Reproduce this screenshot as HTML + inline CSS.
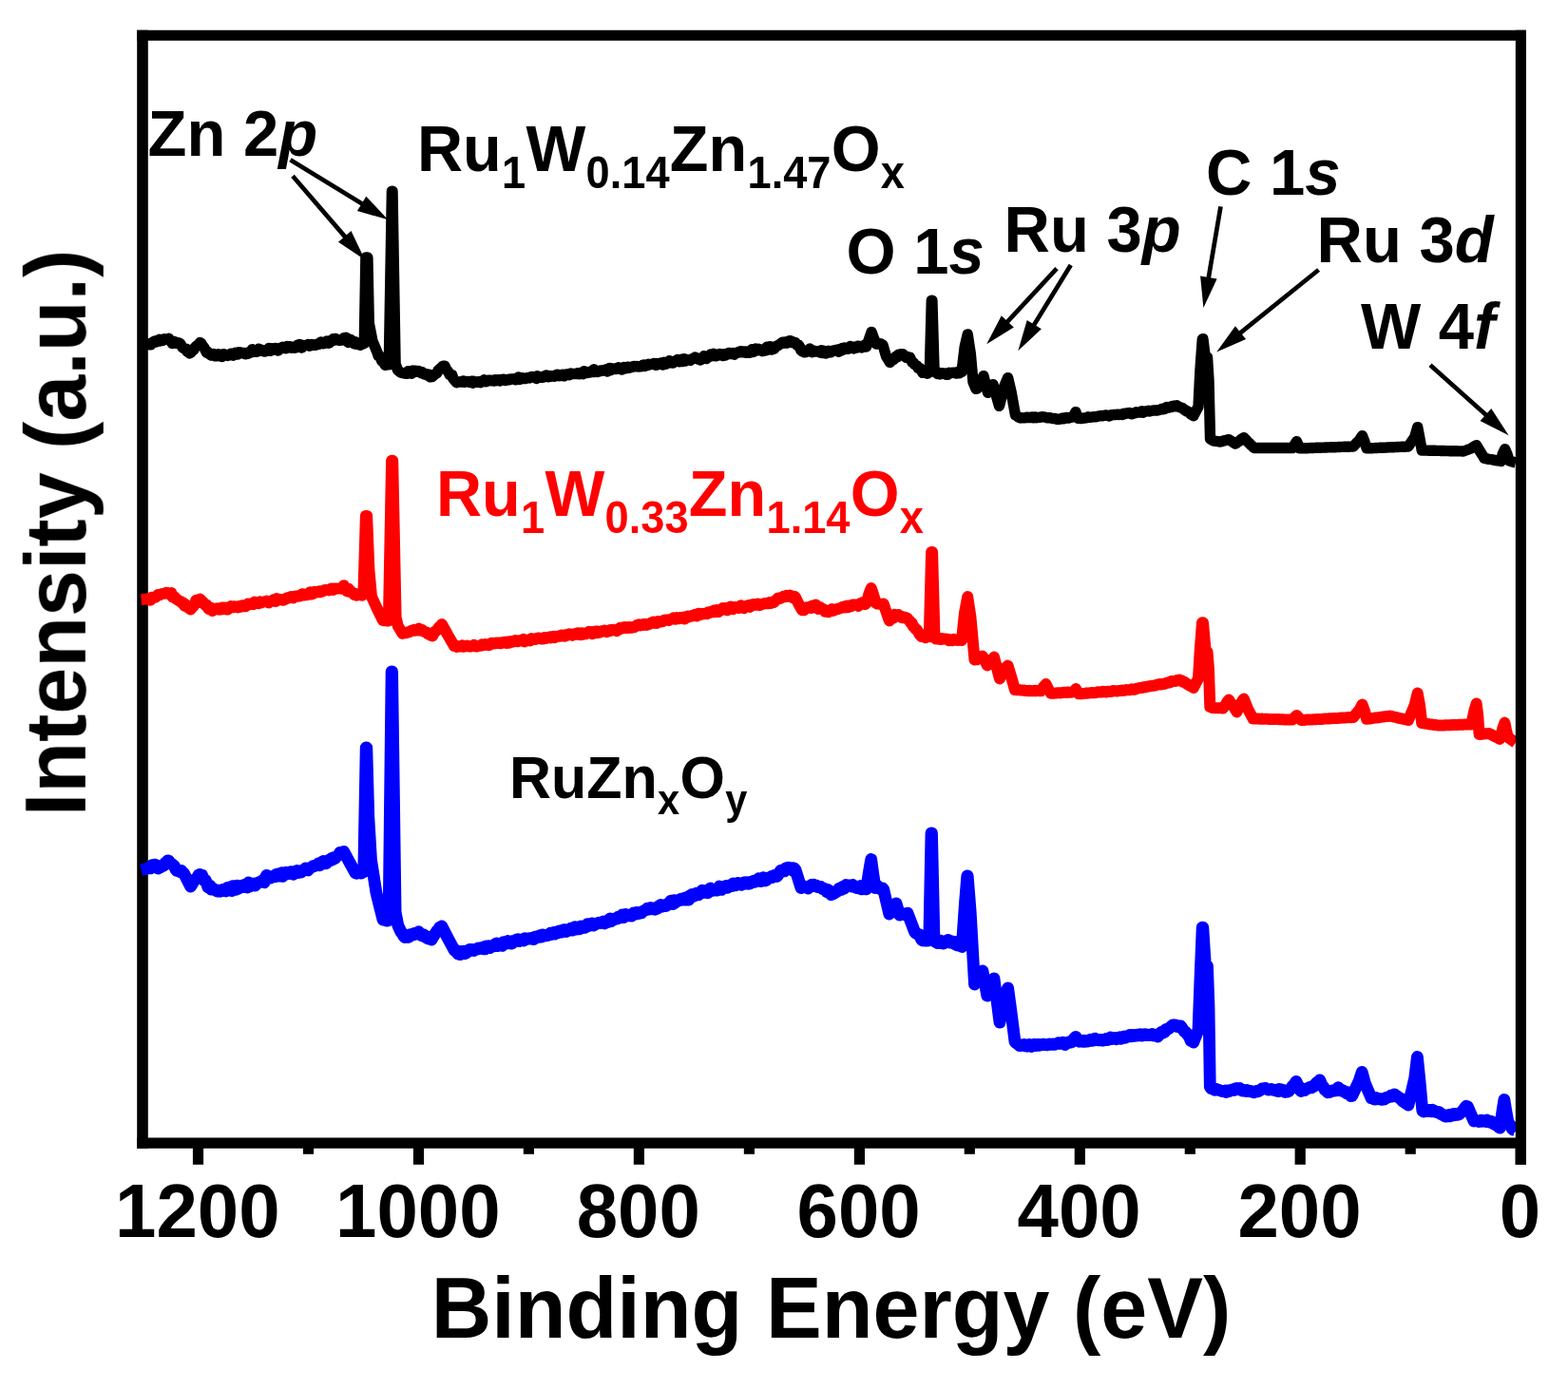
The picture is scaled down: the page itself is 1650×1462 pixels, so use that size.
<!DOCTYPE html>
<html lang="en"><head><meta charset="utf-8"><title>XPS survey spectra</title>
<style>
html,body{margin:0;padding:0;background:#fff;}
body{width:1650px;height:1462px;overflow:hidden;}
svg{display:block;}
text{font-family:"Liberation Sans","Arial","Helvetica",sans-serif;font-weight:700;}
.it{font-style:italic;}
</style></head><body>
<svg xmlns="http://www.w3.org/2000/svg" width="1650" height="1462" viewBox="0 0 1650 1462">
<rect x="0" y="0" width="1650" height="1462" fill="#fff"/>
<defs><filter id="soft" x="0" y="0" width="1650" height="1462" filterUnits="userSpaceOnUse"><feGaussianBlur stdDeviation="0.55"/></filter></defs>
<g filter="url(#soft)">
<g id="frame" stroke="#000" fill="none">
<line x1="150" y1="31.85" x2="150" y2="1208.7" stroke-width="11.6"/>
<line x1="144.2" y1="37.35" x2="1606" y2="37.35" stroke-width="11.0"/>
<line x1="144.2" y1="1203.1" x2="1606" y2="1203.1" stroke-width="11.2"/>
</g>
<line x1="1600.2" y1="1203.0" x2="1600.2" y2="1225.8" stroke="#000" stroke-width="11.2"/>
<line x1="1484.2" y1="1203.0" x2="1484.2" y2="1214.8" stroke="#000" stroke-width="11.2"/>
<line x1="1368.2" y1="1203.0" x2="1368.2" y2="1225.8" stroke="#000" stroke-width="11.2"/>
<line x1="1252.3" y1="1203.0" x2="1252.3" y2="1214.8" stroke="#000" stroke-width="11.2"/>
<line x1="1136.3" y1="1203.0" x2="1136.3" y2="1225.8" stroke="#000" stroke-width="11.2"/>
<line x1="1020.3" y1="1203.0" x2="1020.3" y2="1214.8" stroke="#000" stroke-width="11.2"/>
<line x1="904.4" y1="1203.0" x2="904.4" y2="1225.8" stroke="#000" stroke-width="11.2"/>
<line x1="788.4" y1="1203.0" x2="788.4" y2="1214.8" stroke="#000" stroke-width="11.2"/>
<line x1="672.4" y1="1203.0" x2="672.4" y2="1225.8" stroke="#000" stroke-width="11.2"/>
<line x1="556.4" y1="1203.0" x2="556.4" y2="1214.8" stroke="#000" stroke-width="11.2"/>
<line x1="440.5" y1="1203.0" x2="440.5" y2="1225.8" stroke="#000" stroke-width="11.2"/>
<line x1="324.5" y1="1203.0" x2="324.5" y2="1214.8" stroke="#000" stroke-width="11.2"/>
<line x1="208.5" y1="1203.0" x2="208.5" y2="1225.8" stroke="#000" stroke-width="11.2"/>
<g fill="none" stroke-linejoin="round">
<polyline points="148.5,362.0 156.0,361.8 157.3,362.9 158.7,362.8 160.0,361.0 161.3,359.8 162.7,359.1 164.0,360.0 165.2,359.7 166.4,358.2 167.7,357.4 168.9,358.9 170.1,358.5 171.3,358.6 172.6,356.7 173.8,357.4 175.0,357.1 176.2,357.3 177.5,356.1 178.7,358.7 179.9,358.8 181.1,361.5 182.4,359.4 183.6,359.4 184.8,361.3 186.0,360.5 187.3,361.6 188.5,361.0 189.7,361.8 190.9,363.7 192.1,365.7 193.3,366.6 194.6,367.2 195.8,367.2 197.0,370.0 198.2,370.8 199.4,371.9 200.8,371.2 202.2,369.2 203.6,368.6 205.0,366.0 206.3,364.6 207.7,363.5 209.0,362.6 210.3,360.6 211.7,361.2 213.2,363.9 214.6,365.6 216.0,368.0 217.3,371.2 218.6,370.3 219.8,372.2 221.1,373.4 222.4,374.0 223.6,373.7 224.8,372.5 226.1,374.9 227.3,373.6 228.5,374.7 229.7,372.7 230.9,373.6 232.1,375.2 233.3,375.4 234.6,372.8 235.8,372.7 237.0,374.0 238.2,373.8 239.4,374.4 240.5,373.7 241.7,373.7 242.9,372.3 244.1,373.7 245.3,374.1 246.5,372.4 247.6,371.3 248.8,371.8 250.0,373.1 251.2,370.6 252.4,372.0 253.6,371.0 254.7,371.7 255.9,371.4 257.1,371.5 258.3,372.8 259.5,371.6 260.7,372.4 261.8,370.8 263.0,370.3 264.2,371.0 265.4,367.7 266.6,370.3 267.8,370.4 268.9,368.8 270.1,370.4 271.3,369.2 272.5,367.1 273.7,369.2 274.9,368.3 276.0,368.6 277.2,368.9 278.4,370.1 279.6,368.8 280.8,368.6 282.0,368.8 283.1,366.5 284.3,369.4 285.5,368.0 286.7,366.8 287.9,368.2 289.0,366.4 290.2,366.4 291.4,366.9 292.6,369.1 293.8,367.7 295.0,366.2 296.1,366.4 297.3,365.3 298.5,366.4 299.7,365.7 300.9,366.8 302.1,364.5 303.2,365.5 304.4,364.8 305.6,364.8 306.8,366.1 308.0,365.4 309.2,365.7 310.3,366.2 311.5,366.0 312.7,363.2 313.9,365.1 315.1,362.5 316.3,364.1 317.4,366.1 318.6,363.7 319.8,363.4 321.0,363.8 322.2,363.5 323.4,363.3 324.5,362.4 325.7,364.2 326.9,363.8 328.1,362.5 329.3,362.9 330.5,363.1 331.6,363.4 332.8,362.6 334.0,362.0 335.2,362.5 336.4,361.2 337.6,360.0 338.8,360.4 340.0,361.8 341.2,361.5 342.4,360.3 343.6,359.2 344.8,359.9 346.0,361.2 347.2,360.6 348.4,358.0 349.6,358.5 350.8,356.7 352.0,358.0 353.2,356.5 354.4,357.8 355.7,357.4 356.9,358.2 358.1,358.3 359.3,357.6 360.6,357.9 361.8,355.7 363.0,356.1 364.2,355.3 365.3,357.6 366.5,360.5 367.7,358.4 368.8,357.2 370.0,359.0 371.3,359.9 372.6,361.8 373.8,359.7 375.1,362.3 376.4,362.0 377.8,361.2 379.2,363.2 380.5,362.5 381.9,361.9 383.3,361.5 384.9,271.0 386.9,271.0 388.3,340.0 392.0,359.0 397.0,371.0 398.2,374.8 399.3,374.3 400.5,375.9 401.7,380.0 402.8,379.4 404.0,382.0 405.3,384.4 406.6,382.9 408.0,382.6 409.3,383.9 412.4,201.1 413.0,201.1 416.1,383.0 418.5,389.5 420.0,390.7 421.5,392.0 423.0,392.4 424.5,392.8 426.0,393.0 427.2,392.6 428.4,393.4 429.6,390.6 430.9,391.8 432.1,391.8 433.3,393.2 434.5,390.0 435.7,391.1 437.0,390.3 438.2,390.4 439.4,391.3 440.6,390.6 441.8,391.4 443.0,392.7 444.2,391.6 445.4,392.7 446.6,393.9 447.8,394.2 449.0,393.7 450.2,395.3 451.4,394.3 452.6,396.8 453.8,396.1 455.0,396.4 456.2,395.1 457.4,394.1 458.6,393.2 459.8,392.7 461.0,390.0 462.2,388.9 463.4,387.7 464.6,387.5 465.8,385.3 467.0,385.1 468.2,385.4 469.5,389.2 470.8,390.0 472.0,392.0 473.2,394.4 474.5,394.4 475.7,394.6 476.9,398.5 478.2,400.0 479.4,401.5 480.6,402.7 481.8,402.0 482.9,401.9 484.1,402.1 485.3,401.5 486.5,401.9 487.6,401.0 488.8,402.3 490.0,402.0 491.2,401.4 492.5,401.6 493.8,402.4 495.0,402.5 496.2,401.2 497.5,403.2 498.8,401.4 500.0,401.8 501.2,402.3 502.3,402.3 503.5,401.7 504.7,401.6 505.8,402.6 507.0,401.9 508.2,401.5 509.3,399.8 510.5,400.5 511.7,401.7 512.9,400.9 514.0,400.1 515.2,400.2 516.4,400.3 517.5,400.9 518.7,400.6 519.9,401.0 521.0,399.6 522.2,400.8 523.4,399.6 524.5,399.7 525.7,401.0 526.9,399.8 528.0,399.5 529.2,399.4 530.4,399.2 531.6,400.5 532.7,400.2 533.9,399.7 535.1,399.2 536.2,399.7 537.4,398.9 538.6,399.1 539.7,399.0 540.9,398.7 542.1,399.7 543.2,399.7 544.4,399.3 545.6,396.9 546.7,399.5 547.9,398.6 549.1,397.7 550.3,397.9 551.4,398.6 552.6,398.6 553.8,398.3 554.9,397.7 556.1,397.5 557.3,398.0 558.4,397.2 559.6,396.5 560.8,396.6 561.9,396.9 563.1,397.2 564.3,398.5 565.4,395.7 566.6,397.0 567.8,396.5 569.0,396.7 570.1,397.4 571.3,397.2 572.5,396.1 573.6,395.7 574.8,395.0 576.0,395.9 577.1,396.8 578.3,395.5 579.5,396.2 580.6,396.1 581.8,395.8 583.0,396.2 584.1,395.2 585.3,394.6 586.5,394.2 587.7,395.7 588.8,394.7 590.0,394.6 591.2,395.4 592.3,394.1 593.5,395.9 594.7,395.0 595.8,394.0 597.0,394.3 598.2,393.7 599.3,394.9 600.5,393.0 601.7,393.3 602.8,393.6 604.0,393.6 605.2,393.4 606.3,393.5 607.5,392.8 608.7,392.8 609.9,393.8 611.0,393.2 612.2,392.2 613.4,393.7 614.5,390.7 615.7,392.2 616.9,392.5 618.0,392.6 619.2,391.8 620.4,391.3 621.5,391.9 622.7,391.2 623.9,391.5 625.0,388.8 626.2,391.2 627.4,390.1 628.6,391.4 629.7,391.1 630.9,390.9 632.1,389.9 633.2,390.4 634.4,389.7 635.6,390.0 636.7,389.6 637.9,388.8 639.1,391.0 640.2,389.8 641.4,387.5 642.6,389.7 643.7,387.7 644.9,388.5 646.1,388.1 647.3,388.0 648.4,388.5 649.6,387.9 650.8,386.8 651.9,387.9 653.1,388.1 654.3,389.1 655.4,387.2 656.6,386.4 657.8,386.9 658.9,387.6 660.1,386.2 661.3,386.2 662.4,387.1 663.6,386.5 664.8,386.6 666.0,385.7 667.1,385.4 668.3,385.7 669.5,385.7 670.6,385.4 671.8,386.0 673.0,385.9 674.1,385.8 675.3,385.6 676.5,384.3 677.6,384.0 678.8,385.5 680.0,384.6 681.1,384.6 682.3,383.4 683.5,384.0 684.7,383.5 685.8,383.2 687.0,383.3 688.2,382.4 689.3,383.6 690.5,384.4 691.7,382.7 692.8,383.2 694.0,383.0 695.2,381.9 696.3,383.2 697.5,384.1 698.7,381.2 699.9,381.9 701.0,383.2 702.2,382.1 703.4,381.7 704.6,379.6 705.7,381.1 706.9,381.9 708.1,382.1 709.2,381.3 710.4,380.0 711.6,379.7 712.8,378.5 713.9,379.0 715.1,380.8 716.3,379.5 717.4,378.2 718.6,380.5 719.8,377.6 721.0,380.1 722.1,378.4 723.3,378.9 724.5,379.0 725.7,378.4 726.8,379.2 728.0,377.9 729.2,377.4 730.3,376.9 731.5,376.0 732.7,376.5 733.9,377.9 735.0,377.6 736.2,377.9 737.4,379.0 738.6,376.9 739.7,376.5 740.9,374.7 742.1,375.5 743.2,377.6 744.4,375.9 745.6,375.1 746.8,375.3 747.9,373.0 749.1,373.9 750.3,373.2 751.4,372.3 752.6,374.9 753.8,374.9 755.0,373.6 756.1,373.9 757.3,372.4 758.5,373.7 759.7,373.8 760.8,374.4 762.0,372.7 763.2,374.1 764.4,372.9 765.5,372.2 766.7,371.4 767.9,371.5 769.1,372.5 770.2,372.3 771.4,371.7 772.6,373.2 773.8,372.0 775.0,371.3 776.1,370.9 777.3,371.1 778.5,369.9 779.7,369.8 780.8,370.9 782.0,369.9 783.2,370.1 784.4,371.4 785.6,369.9 786.7,371.3 787.9,369.8 789.1,371.2 790.3,370.0 791.4,367.7 792.6,370.5 793.8,369.0 795.0,367.0 796.2,369.0 797.3,368.9 798.5,367.3 799.7,367.9 800.9,368.9 802.0,369.7 803.2,369.3 804.4,369.2 805.6,369.0 806.8,365.2 807.9,366.8 809.1,367.6 810.3,364.6 811.5,368.0 812.6,368.0 813.8,366.1 815.0,366.8 816.2,365.4 817.4,363.9 818.6,363.9 819.8,362.9 821.0,362.0 822.2,361.6 823.4,360.1 824.6,361.2 825.8,360.0 827.0,360.0 828.2,361.1 829.5,360.5 830.8,358.6 832.0,358.7 833.2,360.4 834.5,359.8 835.8,361.0 837.0,360.5 838.2,362.9 839.3,363.6 840.5,363.3 841.7,365.4 842.8,368.7 844.0,369.7 845.2,368.7 846.3,370.9 847.5,369.7 848.7,370.3 849.8,368.9 851.0,369.8 852.2,366.9 853.3,369.7 854.5,370.5 855.7,369.1 856.8,369.1 858.0,370.0 859.2,370.0 860.5,370.2 861.8,369.4 863.0,371.0 864.2,368.8 865.5,371.6 866.8,369.2 868.0,369.9 869.2,372.1 870.5,369.8 871.8,369.3 873.0,371.0 874.2,370.8 875.4,369.5 876.6,369.0 877.9,369.2 879.1,368.8 880.3,368.3 881.5,368.0 882.7,370.3 883.9,367.7 885.1,369.1 886.4,366.4 887.6,368.1 888.8,366.0 890.0,367.0 891.2,366.4 892.4,367.4 893.6,366.1 894.8,364.5 896.0,365.9 897.2,366.2 898.4,366.8 899.6,365.1 900.8,365.7 902.0,366.0 903.2,364.1 904.4,365.6 905.6,364.7 906.8,365.9 908.0,365.2 909.2,365.0 910.5,362.6 911.7,365.0 914.8,356.0 917.1,349.4 919.4,356.0 922.2,362.0 923.6,362.1 924.9,362.0 926.3,361.6 927.6,362.3 929.0,363.0 932.5,375.0 936.5,381.4 937.8,379.1 939.1,379.2 940.4,378.5 941.6,377.2 942.9,375.0 944.2,375.9 945.5,373.1 946.7,374.2 947.9,372.8 949.1,373.8 950.2,372.7 951.4,374.5 952.6,375.6 953.8,376.4 955.0,375.5 956.2,376.3 957.5,376.2 958.8,378.9 960.0,381.5 961.2,381.6 962.5,383.7 963.8,384.5 965.0,385.0 966.2,387.4 967.3,387.7 968.5,387.7 969.7,389.7 970.8,392.4 972.0,391.5 973.3,391.1 974.5,390.0 975.8,393.2 977.0,391.8 978.3,391.5 980.3,316.1 980.9,316.1 983.1,391.5 984.3,391.7 985.5,392.4 986.7,393.5 987.9,392.3 989.1,393.9 990.3,393.5 991.5,392.8 992.7,392.9 994.0,392.9 995.2,394.0 996.4,393.0 997.6,394.2 998.8,392.4 1000.0,393.0 1001.2,392.4 1002.4,392.3 1003.6,392.1 1004.8,392.3 1006.0,393.0 1007.2,393.0 1008.4,391.1 1009.6,392.8 1010.8,391.7 1012.0,391.5 1015.2,365.0 1018.2,351.9 1021.3,372.0 1024.0,402.0 1027.0,409.4 1028.3,409.0 1029.7,406.4 1031.0,405.0 1035.0,395.6 1039.5,413.4 1045.0,404.6 1051.5,427.4 1057.0,406.0 1060.6,397.6 1064.0,412.0 1068.5,437.0 1069.9,437.5 1071.2,438.8 1072.6,439.4 1074.0,440.0 1075.2,439.8 1076.4,439.9 1077.6,439.9 1078.8,439.9 1080.0,439.2 1081.2,439.3 1082.4,439.6 1083.6,439.6 1084.8,439.3 1086.0,438.9 1087.2,439.8 1088.4,439.2 1089.6,438.9 1090.8,439.7 1092.0,439.5 1093.2,439.4 1094.4,439.2 1095.6,439.1 1096.8,438.6 1098.0,438.8 1099.2,439.0 1100.5,439.4 1101.7,439.7 1102.9,439.8 1104.1,439.6 1105.3,439.9 1106.6,440.2 1107.8,440.5 1109.0,440.5 1110.2,440.5 1111.5,440.9 1112.7,441.4 1113.9,441.4 1115.0,441.1 1116.2,441.1 1117.4,440.2 1118.5,440.4 1119.7,440.7 1120.8,439.6 1122.0,439.7 1123.2,439.4 1124.3,440.1 1125.5,439.5 1126.7,439.2 1127.8,439.2 1129.0,439.0 1132.0,433.6 1134.5,440.4 1135.7,440.3 1136.8,440.5 1138.0,440.5 1139.2,440.3 1140.3,440.0 1141.5,440.0 1142.7,439.9 1143.8,439.9 1145.0,438.8 1146.2,439.4 1147.3,439.2 1148.5,439.1 1149.7,438.9 1150.8,438.8 1152.0,438.9 1153.2,438.7 1154.3,438.6 1155.5,438.1 1156.7,437.9 1157.8,437.9 1159.0,437.5 1160.2,437.8 1161.3,437.5 1162.5,437.1 1163.7,437.0 1164.8,437.3 1166.0,437.2 1167.2,438.0 1168.3,437.4 1169.5,436.8 1170.7,436.7 1171.8,436.5 1173.0,436.4 1174.2,436.5 1175.3,436.4 1176.5,436.1 1177.7,436.5 1178.8,436.3 1180.0,436.0 1181.2,436.5 1182.4,435.3 1183.6,435.8 1184.8,435.3 1186.0,434.8 1187.2,435.1 1188.4,434.5 1189.6,434.9 1190.7,435.8 1191.9,435.1 1193.1,435.2 1194.3,434.8 1195.5,433.7 1196.7,434.2 1197.9,434.0 1199.1,434.0 1200.3,433.3 1201.5,432.8 1202.7,434.2 1203.9,433.7 1205.1,433.3 1206.3,432.8 1207.5,432.9 1208.7,432.3 1209.8,433.0 1211.0,432.5 1212.2,432.3 1213.4,432.0 1214.6,432.0 1215.8,432.0 1217.0,431.6 1218.2,432.0 1219.4,431.5 1220.6,431.3 1221.8,430.8 1223.0,430.2 1224.1,430.7 1225.3,430.4 1226.5,429.9 1227.7,428.5 1228.9,428.8 1230.1,429.1 1231.3,428.3 1232.4,428.5 1233.6,427.5 1234.8,427.7 1236.0,427.1 1237.3,427.7 1238.6,426.9 1239.9,428.1 1241.1,428.6 1242.4,428.9 1243.7,429.2 1245.0,430.0 1246.2,431.5 1247.4,431.7 1248.6,432.9 1249.8,433.0 1251.0,433.7 1252.2,435.1 1253.4,436.3 1254.6,436.8 1255.8,437.9 1261.0,428.0 1262.9,390.0 1265.3,356.8 1265.9,356.8 1268.3,376.0 1270.5,376.0 1272.0,400.0 1273.5,462.0 1274.7,462.7 1275.8,463.4 1277.0,464.0 1278.2,464.1 1279.3,464.3 1280.5,464.5 1281.7,464.7 1282.8,464.9 1284.0,465.0 1285.3,464.7 1286.6,464.3 1287.9,463.9 1289.1,463.6 1290.4,463.3 1291.7,462.8 1293.0,462.6 1294.2,463.4 1295.3,464.0 1296.5,464.8 1297.7,465.7 1298.8,466.5 1300.0,467.1 1301.3,466.2 1302.5,465.3 1303.8,464.5 1305.0,463.5 1306.3,462.3 1307.5,461.5 1308.8,460.6 1310.1,462.1 1311.4,463.2 1312.7,464.7 1314.0,466.0 1315.4,467.3 1316.8,468.8 1318.3,470.1 1319.7,471.5 1320.9,471.5 1322.1,471.5 1323.3,471.5 1324.5,471.5 1325.7,471.5 1326.9,471.5 1328.0,471.5 1329.2,471.5 1330.4,471.5 1331.6,471.5 1332.8,471.5 1334.0,471.5 1335.2,471.5 1336.4,471.5 1337.6,471.5 1338.8,471.5 1340.0,471.5 1341.2,471.5 1342.4,471.5 1343.6,471.5 1344.7,471.5 1345.9,471.5 1347.1,471.5 1348.3,471.5 1349.5,471.5 1350.7,471.5 1351.9,471.5 1353.1,471.5 1354.3,471.5 1355.5,471.5 1356.7,471.5 1357.9,471.5 1359.1,471.5 1360.2,471.5 1364.5,464.6 1367.5,471.9 1368.7,471.9 1369.9,471.9 1371.1,471.8 1372.3,471.8 1373.4,471.7 1374.6,471.7 1375.8,471.7 1377.0,471.6 1378.1,471.6 1379.3,471.5 1380.5,471.5 1381.7,471.5 1382.8,471.4 1384.0,471.4 1385.2,471.3 1386.4,471.3 1387.5,471.3 1388.7,471.2 1389.9,471.2 1391.1,471.1 1392.2,471.1 1393.4,471.1 1394.6,471.0 1395.8,471.0 1397.0,470.9 1398.1,470.9 1399.3,470.9 1400.5,470.8 1401.7,470.8 1402.8,470.7 1404.0,470.7 1405.2,470.7 1406.4,470.6 1407.5,470.6 1408.7,470.5 1409.9,470.5 1411.1,470.4 1412.2,470.4 1413.4,470.4 1414.6,470.3 1415.8,470.3 1416.9,470.3 1418.1,470.2 1419.3,470.2 1420.5,470.1 1421.6,470.1 1422.8,470.0 1424.0,470.0 1425.3,468.6 1426.7,467.1 1428.0,465.7 1429.3,464.5 1430.7,463.0 1432.1,460.7 1433.5,458.6 1435.6,464.0 1438.1,471.9 1439.3,471.9 1440.5,471.8 1441.7,471.8 1442.9,471.7 1444.0,471.7 1445.2,471.6 1446.4,471.6 1447.6,471.5 1448.8,471.5 1450.0,471.4 1451.2,471.4 1452.3,471.3 1453.5,471.3 1454.7,471.2 1455.9,471.2 1457.1,471.1 1458.3,471.1 1459.5,471.0 1460.6,470.9 1461.8,470.9 1463.0,470.8 1464.2,470.8 1465.4,470.7 1466.6,470.7 1467.8,470.6 1469.0,470.6 1470.1,470.5 1471.3,470.5 1472.5,470.4 1473.7,470.4 1474.9,470.3 1476.1,470.3 1477.3,470.2 1478.4,470.2 1479.6,470.1 1480.8,470.1 1482.0,470.0 1483.3,468.0 1484.7,465.9 1486.0,464.0 1487.4,462.0 1488.7,460.0 1491.7,449.6 1493.7,460.0 1496.2,474.0 1497.4,474.0 1498.6,474.1 1499.7,474.1 1500.9,474.1 1502.1,474.1 1503.3,474.2 1504.5,474.2 1505.7,474.2 1506.8,474.2 1508.0,474.3 1509.2,474.3 1510.4,474.3 1511.6,474.4 1512.8,474.4 1513.9,474.4 1515.1,474.4 1516.3,474.5 1517.5,474.5 1518.7,474.5 1519.9,474.5 1521.1,474.6 1522.2,474.6 1523.4,474.6 1524.6,474.6 1525.8,474.7 1527.0,474.7 1528.2,474.7 1529.3,474.8 1530.5,474.8 1531.7,474.8 1532.9,474.8 1534.1,474.9 1535.3,474.9 1536.4,474.9 1537.6,474.9 1538.8,475.0 1540.0,475.0 1541.3,474.5 1542.7,474.0 1544.0,473.5 1545.3,473.0 1546.7,472.5 1548.0,472.0 1549.4,471.1 1550.8,470.3 1552.2,469.4 1553.6,468.6 1558.0,476.0 1559.3,478.1 1560.7,480.3 1562.0,482.4 1563.2,482.6 1564.5,482.8 1565.7,483.1 1566.9,483.3 1568.1,483.5 1569.4,483.7 1570.6,483.9 1571.8,484.1 1573.0,484.4 1574.3,484.6 1575.5,484.8 1576.7,485.0 1577.9,485.2 1579.2,485.4 1581.2,478.0 1583.7,472.6 1585.9,478.0 1588.0,485.0 1589.2,485.3 1590.4,485.7 1591.5,486.0 1592.7,486.3 1593.8,486.7 1595.0,487.0" stroke="#000" stroke-width="11.4"/>
<polyline points="148.5,631.0 157.0,630.3 158.3,631.8 159.7,628.8 161.0,629.2 162.3,628.6 163.7,628.7 165.0,627.5 166.3,626.0 167.5,626.4 168.8,625.7 170.1,625.1 171.3,624.9 172.6,624.8 173.9,624.6 175.1,623.7 176.4,624.1 177.7,625.3 179.0,625.4 180.3,624.1 181.6,628.6 182.8,628.2 184.1,628.7 185.4,630.5 186.7,631.3 188.0,632.0 189.3,633.0 190.5,633.2 191.8,635.0 193.0,634.5 194.3,637.8 195.6,636.6 196.8,638.4 198.1,639.5 199.3,640.6 200.6,641.4 202.1,639.4 203.5,638.2 205.0,636.0 206.3,631.7 207.7,633.1 209.0,631.7 210.3,630.6 211.5,631.5 212.7,634.4 213.8,633.8 215.0,636.0 216.2,637.1 217.5,636.9 218.8,640.0 220.0,641.2 221.2,639.9 222.4,640.0 223.6,643.0 224.8,641.8 226.0,641.2 227.2,641.4 228.4,640.2 229.6,640.5 230.8,641.7 232.0,641.5 233.2,639.6 234.4,641.2 235.6,639.5 236.9,640.7 238.1,639.6 239.3,641.6 240.5,640.8 241.7,639.5 242.9,638.2 244.1,638.9 245.4,639.2 246.6,638.3 247.8,639.1 249.0,638.8 250.2,639.3 251.3,638.2 252.5,637.7 253.7,638.5 254.8,637.4 256.0,638.1 257.2,637.0 258.3,638.3 259.5,636.6 260.7,635.7 261.8,636.5 263.0,635.7 264.2,635.2 265.3,635.7 266.5,636.2 267.7,633.6 268.8,635.1 270.0,634.8 271.2,634.6 272.3,635.2 273.5,633.2 274.7,634.6 275.8,633.7 277.0,633.8 278.2,633.3 279.4,633.0 280.5,632.6 281.7,633.2 282.9,634.4 284.0,633.3 285.2,632.9 286.4,632.5 287.5,631.4 288.7,632.1 289.9,633.1 291.0,630.1 292.2,631.7 293.4,631.6 294.5,630.8 295.7,631.0 296.9,631.3 298.0,631.8 299.2,630.8 300.4,630.9 301.5,629.6 302.7,629.8 303.9,629.0 305.0,628.9 306.2,628.1 307.4,628.8 308.5,629.3 309.7,627.9 310.9,627.5 312.1,627.6 313.2,627.7 314.4,627.0 315.6,627.5 316.8,626.7 317.9,625.3 319.1,625.2 320.3,626.4 321.5,626.1 322.7,626.3 323.8,625.3 325.0,625.0 326.2,623.3 327.4,625.6 328.6,623.4 329.7,624.8 330.9,622.8 332.1,623.0 333.3,623.4 334.4,622.7 335.6,622.2 336.8,623.3 338.0,622.9 339.2,622.5 340.3,621.6 341.5,621.0 342.7,621.0 343.9,620.8 345.1,621.0 346.2,621.4 347.4,620.4 348.6,619.6 349.8,619.6 350.9,620.9 352.1,619.7 353.3,619.4 354.5,619.5 355.7,619.4 356.9,619.5 358.1,619.1 359.4,619.8 360.6,619.4 361.8,616.2 363.0,618.5 364.2,619.1 365.4,622.4 366.6,619.5 367.8,621.4 369.0,622.0 370.2,623.8 371.4,623.9 372.6,625.9 373.8,624.7 375.0,626.7 376.2,625.5 377.5,626.3 378.7,625.7 380.0,625.3 381.2,626.6 382.4,626.0 384.9,542.9 386.1,542.9 388.4,600.0 391.0,628.0 397.0,641.0 403.0,653.0 404.2,653.3 405.4,653.2 406.6,653.0 407.8,653.6 408.9,653.5 412.1,484.7 413.2,484.7 416.6,650.0 418.8,659.0 423.6,666.9 424.8,666.5 426.0,665.8 427.2,666.2 428.4,665.8 429.6,665.2 430.8,665.3 432.0,664.5 433.2,663.4 434.5,663.6 435.7,662.9 436.9,663.7 438.1,662.8 439.4,663.4 440.6,661.6 441.8,663.3 443.0,662.7 444.2,662.9 445.4,664.5 446.6,664.7 447.8,665.4 449.0,665.5 450.2,667.2 451.4,667.6 452.6,668.3 453.8,668.9 455.0,669.4 456.2,667.3 457.5,664.8 458.8,664.4 460.0,663.0 461.2,661.1 462.5,659.7 463.8,659.2 465.0,657.1 471.0,668.0 478.0,680.0 479.2,679.9 480.4,680.8 481.6,680.1 482.8,680.4 484.0,680.3 485.2,680.4 486.4,679.3 487.6,680.6 488.8,680.1 490.0,680.0 491.2,679.5 492.5,680.3 493.8,680.1 495.0,680.6 496.2,680.3 497.5,680.0 498.8,679.0 500.0,679.8 501.2,680.6 502.4,680.3 503.5,679.8 504.7,679.5 505.9,679.8 507.1,678.5 508.3,679.2 509.5,678.7 510.6,678.1 511.8,678.7 513.0,678.5 514.2,679.1 515.4,678.6 516.6,677.1 517.7,676.7 518.9,677.6 520.1,677.4 521.3,676.9 522.5,676.5 523.7,677.0 524.8,676.4 526.0,676.5 527.2,677.2 528.4,676.7 529.6,676.0 530.8,675.7 531.9,676.1 533.1,677.0 534.3,675.6 535.5,676.7 536.7,675.2 537.9,675.4 539.0,675.8 540.2,674.8 541.4,675.1 542.6,674.2 543.8,675.2 545.0,675.3 546.1,674.2 547.3,674.5 548.5,674.3 549.7,673.9 550.8,672.8 552.0,675.4 553.2,674.1 554.3,674.1 555.5,673.7 556.7,673.5 557.8,674.6 559.0,672.1 560.2,672.8 561.4,672.6 562.5,672.6 563.7,673.0 564.9,672.0 566.0,671.5 567.2,671.5 568.4,672.3 569.5,672.4 570.7,672.2 571.9,672.5 573.0,671.2 574.2,671.9 575.4,671.6 576.5,671.0 577.7,670.5 578.9,671.3 580.1,670.3 581.2,670.4 582.4,669.9 583.6,671.3 584.7,670.1 585.9,669.7 587.1,669.7 588.2,669.6 589.4,669.7 590.6,668.5 591.7,668.7 592.9,669.5 594.1,669.7 595.2,668.3 596.4,668.9 597.6,668.3 598.8,667.2 599.9,668.2 601.1,667.6 602.3,668.7 603.4,667.9 604.6,667.9 605.8,666.9 606.9,667.7 608.1,666.3 609.3,667.5 610.4,668.0 611.6,666.3 612.8,667.5 613.9,667.7 615.1,666.6 616.3,667.2 617.5,666.5 618.6,666.0 619.8,664.9 621.0,665.3 622.1,665.0 623.3,667.2 624.5,665.8 625.6,665.4 626.8,664.5 628.0,666.3 629.1,664.4 630.3,665.9 631.5,665.5 632.6,664.7 633.8,664.1 635.0,664.4 636.2,663.4 637.3,664.5 638.5,665.1 639.7,664.4 640.8,664.4 642.0,663.2 643.2,663.7 644.3,662.7 645.5,663.2 646.7,662.7 647.8,663.2 649.0,664.2 650.2,662.4 651.3,662.2 652.5,660.7 653.7,661.8 654.9,660.9 656.0,660.4 657.2,660.1 658.4,661.0 659.5,660.4 660.7,660.9 661.9,660.1 663.0,660.1 664.2,660.8 665.4,660.2 666.5,659.9 667.7,660.2 668.9,659.1 670.1,658.1 671.2,658.1 672.4,657.3 673.6,658.4 674.7,657.7 675.9,658.1 677.1,658.1 678.2,656.8 679.4,657.2 680.6,657.8 681.8,656.8 682.9,657.1 684.1,656.1 685.3,655.4 686.4,655.7 687.6,654.4 688.8,655.9 689.9,654.9 691.1,655.9 692.3,654.0 693.4,654.7 694.6,654.6 695.8,654.0 697.0,654.2 698.1,653.2 699.3,652.8 700.5,652.4 701.6,652.7 702.8,652.4 704.0,652.9 705.1,652.2 706.3,651.8 707.5,651.6 708.6,650.5 709.8,651.4 711.0,651.8 712.2,650.3 713.3,650.9 714.5,651.3 715.7,650.1 716.8,650.5 718.0,650.2 719.2,649.7 720.4,651.5 721.6,650.5 722.7,650.1 723.9,648.5 725.1,649.3 726.3,648.5 727.5,648.6 728.7,647.7 729.8,648.0 731.0,647.1 732.2,647.6 733.4,648.5 734.6,645.9 735.8,645.7 736.9,646.9 738.1,646.8 739.3,645.7 740.5,646.2 741.7,645.9 742.9,645.7 744.0,646.1 745.2,644.4 746.4,645.1 747.6,644.5 748.8,643.6 750.0,644.3 751.1,642.7 752.3,642.3 753.5,644.1 754.7,642.1 755.9,644.1 757.1,643.3 758.2,641.9 759.4,641.4 760.6,640.1 761.8,641.6 763.0,641.4 764.2,640.0 765.3,642.3 766.5,639.6 767.7,640.7 768.9,638.4 770.1,640.1 771.3,641.2 772.4,639.6 773.6,639.1 774.8,639.2 776.0,639.7 777.2,640.0 778.4,638.9 779.5,637.3 780.7,639.0 781.9,639.3 783.1,640.2 784.3,638.3 785.4,638.1 786.6,637.4 787.8,638.2 789.0,638.9 790.2,636.5 791.4,637.2 792.5,636.1 793.7,636.2 794.9,636.4 796.1,636.8 797.3,635.5 798.4,635.8 799.6,637.0 800.8,636.1 802.0,636.0 803.2,635.6 804.4,635.0 805.5,635.3 806.7,635.2 807.9,634.6 809.1,635.2 810.3,634.2 811.5,634.8 812.6,633.9 813.8,634.3 815.0,633.5 816.2,631.9 817.5,631.0 818.8,629.5 820.0,629.5 821.2,630.0 822.5,628.9 823.8,628.2 825.0,627.5 826.2,628.1 827.4,627.0 828.6,627.9 829.8,627.5 831.0,626.4 832.2,627.9 833.4,627.5 834.6,629.5 835.8,627.8 837.0,628.5 840.0,635.0 844.0,642.2 845.2,641.3 846.4,642.1 847.6,640.9 848.8,639.4 850.0,640.0 851.2,639.7 852.4,638.5 853.6,640.0 854.8,637.4 856.0,637.8 857.2,637.6 858.4,636.4 859.6,638.5 860.9,640.9 862.1,639.7 863.3,639.4 864.5,640.8 865.7,640.8 866.9,641.4 868.1,643.7 869.4,643.8 870.6,643.8 871.8,644.3 873.0,643.4 874.2,642.3 875.4,641.1 876.6,642.8 877.9,642.2 879.1,641.5 880.3,641.0 881.5,641.3 882.7,640.8 883.9,640.1 885.1,639.9 886.4,639.0 887.6,638.5 888.8,639.5 890.0,638.0 891.2,637.6 892.4,639.3 893.6,638.0 894.8,637.4 896.0,638.1 897.2,636.6 898.4,636.7 899.6,636.4 900.8,636.5 902.0,636.9 903.2,637.9 904.4,636.4 905.6,635.0 906.8,635.0 908.0,634.0 909.2,635.9 910.5,635.9 911.7,635.0 914.4,625.0 916.8,619.1 919.1,626.0 921.8,635.0 923.1,635.4 924.4,635.5 925.7,635.7 927.1,635.7 928.4,635.9 929.7,635.5 935.8,653.4 937.0,652.5 938.2,650.6 939.4,650.9 940.6,650.2 941.8,646.9 943.0,647.1 944.2,647.3 945.4,647.0 946.6,648.6 947.8,648.4 949.0,650.1 950.2,650.3 951.4,649.5 952.6,649.9 953.8,650.2 955.0,651.0 956.2,652.9 957.3,653.3 958.5,655.8 959.7,656.0 960.8,659.2 962.0,660.0 963.3,662.0 964.6,662.6 965.9,664.5 967.1,666.8 968.4,668.5 969.7,670.0 971.0,668.3 972.4,670.2 973.7,671.1 975.1,669.9 976.4,669.4 977.8,670.3 980.1,581.1 981.1,581.1 983.5,671.0 985.1,672.5 986.7,672.5 987.9,672.7 989.1,672.8 990.3,673.1 991.5,672.1 992.7,672.6 994.0,672.4 995.2,672.5 996.4,673.0 997.6,672.7 998.8,674.3 1000.0,673.5 1001.2,673.8 1002.4,674.1 1003.6,672.7 1004.8,673.6 1006.0,673.7 1007.2,673.9 1008.4,674.1 1009.6,673.4 1010.8,673.4 1012.0,674.0 1015.0,645.0 1018.2,628.1 1021.5,650.0 1025.5,694.4 1026.7,694.3 1027.9,694.3 1029.1,693.7 1030.4,692.1 1031.6,691.3 1032.8,691.2 1034.0,690.6 1038.8,700.4 1040.0,699.1 1041.2,698.2 1042.4,695.9 1043.6,694.2 1044.8,693.5 1046.0,691.6 1052.0,714.4 1056.5,705.0 1057.9,703.2 1059.2,701.7 1060.6,700.6 1064.0,712.0 1068.0,726.0 1069.2,726.2 1070.4,726.2 1071.6,726.0 1072.8,726.3 1074.0,726.4 1075.2,726.5 1076.4,726.5 1077.6,726.9 1078.8,726.8 1080.0,727.0 1081.2,726.9 1082.4,727.3 1083.5,726.8 1084.7,727.3 1085.9,727.3 1087.1,727.1 1088.2,727.2 1089.4,726.8 1090.6,727.3 1091.8,727.0 1093.0,727.0 1094.1,727.3 1095.3,727.3 1096.7,725.0 1098.1,723.0 1100.6,720.1 1103.0,725.0 1105.8,729.7 1106.9,729.7 1108.1,729.7 1109.3,729.8 1110.5,729.5 1111.6,729.6 1112.8,729.2 1114.0,729.2 1115.2,729.4 1116.3,729.4 1117.5,729.2 1118.7,728.9 1119.9,728.7 1121.0,728.7 1122.2,729.1 1123.4,728.6 1124.6,728.7 1125.7,728.8 1126.9,728.7 1128.1,728.4 1129.2,728.5 1130.6,727.3 1132.0,725.1 1133.7,727.7 1135.3,730.3 1136.5,730.3 1137.6,730.3 1138.8,730.0 1140.0,730.1 1141.1,729.8 1142.3,729.6 1143.4,729.4 1144.6,729.7 1145.8,729.5 1146.9,729.3 1148.1,729.2 1149.3,729.1 1150.4,729.3 1151.6,729.3 1152.8,728.9 1153.9,728.9 1155.1,728.3 1156.2,728.4 1157.4,728.4 1158.6,728.3 1159.7,728.5 1160.9,727.8 1162.1,728.3 1163.2,728.3 1164.4,728.5 1165.6,727.8 1166.7,727.9 1167.9,728.1 1169.1,727.9 1170.2,727.3 1171.4,727.4 1172.5,727.1 1173.7,727.3 1174.9,727.4 1176.0,727.4 1177.2,727.1 1178.4,727.1 1179.5,727.1 1180.7,726.5 1181.9,726.8 1183.0,726.8 1184.2,726.4 1185.3,726.1 1186.5,726.3 1187.7,726.2 1188.8,726.3 1190.0,726.0 1191.2,725.3 1192.3,725.5 1193.5,725.9 1194.7,725.5 1195.9,724.9 1197.0,724.6 1198.2,724.4 1199.4,724.0 1200.6,724.0 1201.7,723.9 1202.9,723.3 1204.1,723.4 1205.2,723.3 1206.4,722.7 1207.6,722.7 1208.8,722.2 1209.9,722.4 1211.1,722.2 1212.3,721.8 1213.4,721.7 1214.6,721.7 1215.8,721.5 1217.0,720.7 1218.1,720.8 1219.3,720.3 1220.5,719.9 1221.7,720.5 1222.8,720.2 1224.0,719.8 1225.2,719.9 1226.4,719.4 1227.6,718.8 1228.9,718.7 1230.1,718.1 1231.3,718.4 1232.5,717.0 1233.7,717.5 1234.9,716.9 1236.1,717.0 1237.4,716.9 1238.6,716.0 1239.8,716.3 1241.0,715.6 1242.2,716.5 1243.3,716.3 1244.5,717.8 1245.7,717.5 1246.8,718.0 1248.0,719.0 1249.3,720.1 1250.6,720.5 1251.9,721.6 1253.2,722.3 1254.5,722.9 1255.8,724.0 1261.0,714.0 1262.7,685.0 1265.0,655.3 1266.0,655.3 1268.5,684.0 1270.5,686.0 1272.0,705.0 1273.3,744.0 1274.5,744.5 1275.8,744.9 1277.0,745.0 1278.2,745.1 1279.5,745.3 1280.8,745.2 1282.0,745.3 1283.2,745.3 1284.5,745.2 1285.8,745.4 1287.0,745.5 1288.2,743.6 1289.4,742.0 1290.6,740.2 1291.8,738.3 1293.0,736.6 1294.3,738.6 1295.7,740.3 1297.0,742.0 1301.5,749.4 1305.0,741.0 1306.3,739.5 1307.5,737.3 1308.8,735.6 1313.0,746.0 1318.5,756.4 1319.7,756.4 1320.9,756.4 1322.0,756.5 1323.2,756.5 1324.4,756.6 1325.6,756.7 1326.8,756.7 1327.9,756.6 1329.1,756.7 1330.3,756.7 1331.5,756.8 1332.7,756.8 1333.8,756.8 1335.0,756.9 1336.2,757.0 1337.4,757.0 1338.6,756.9 1339.8,757.0 1340.9,757.0 1342.1,757.1 1343.3,757.1 1344.5,757.1 1345.7,757.1 1346.8,757.3 1348.0,757.3 1349.2,757.3 1350.4,757.3 1351.6,757.4 1352.7,757.5 1353.9,757.4 1355.1,757.4 1356.3,757.5 1357.5,757.4 1358.6,757.6 1359.8,757.6 1361.0,756.5 1362.2,755.3 1363.3,754.3 1364.5,753.1 1365.7,754.4 1366.8,755.6 1368.0,756.8 1369.2,758.0 1370.3,758.0 1371.5,757.9 1372.7,757.9 1373.8,757.7 1375.0,757.6 1376.2,757.6 1377.3,757.5 1378.5,757.5 1379.7,757.4 1380.8,757.4 1382.0,757.3 1383.2,757.3 1384.3,757.3 1385.5,757.1 1386.7,757.0 1387.8,757.0 1389.0,756.9 1390.2,756.9 1391.3,756.9 1392.5,756.7 1393.7,756.6 1394.8,756.6 1396.0,756.5 1397.2,756.6 1398.3,756.3 1399.5,756.4 1400.7,756.2 1401.8,756.2 1403.0,756.1 1404.2,756.1 1405.3,755.9 1406.5,756.0 1407.7,755.9 1408.8,755.8 1410.0,755.6 1411.2,755.7 1412.3,755.6 1413.5,755.5 1414.7,755.5 1415.8,755.4 1417.0,755.3 1418.2,755.3 1419.3,755.1 1420.5,755.2 1421.7,755.2 1422.8,755.1 1424.0,755.0 1425.3,753.3 1426.7,751.7 1428.0,750.2 1429.3,748.5 1430.7,747.0 1433.5,741.6 1435.9,748.0 1438.1,756.8 1439.3,756.7 1440.5,756.4 1441.6,756.4 1442.8,756.3 1444.0,756.0 1445.1,755.8 1446.3,755.6 1447.5,755.6 1448.6,755.5 1449.8,755.2 1451.0,755.2 1452.2,754.9 1453.3,754.7 1454.5,754.7 1455.7,754.5 1456.8,754.2 1458.0,754.2 1459.2,754.0 1460.4,753.9 1461.5,753.8 1462.7,753.6 1463.9,753.8 1465.1,754.2 1466.3,754.5 1467.5,754.7 1468.7,754.9 1469.9,755.2 1471.1,755.6 1472.3,755.9 1473.6,756.1 1474.8,756.4 1476.0,756.6 1477.2,756.9 1478.4,757.2 1479.6,757.4 1480.8,757.7 1482.0,758.0 1488.7,742.0 1491.7,729.6 1494.0,742.0 1496.2,761.0 1497.3,761.2 1498.5,761.4 1499.7,761.5 1500.8,761.7 1502.0,761.9 1503.2,762.0 1504.3,762.3 1505.5,762.5 1506.6,762.5 1507.8,762.8 1509.0,762.9 1510.1,763.0 1511.3,763.2 1512.4,763.4 1513.6,763.6 1514.8,763.5 1516.0,763.5 1517.2,763.6 1518.4,763.4 1519.6,763.4 1520.8,763.3 1522.0,763.3 1523.2,763.2 1524.4,763.2 1525.6,763.2 1526.7,763.2 1527.9,763.1 1529.1,763.1 1530.3,763.0 1531.5,763.1 1532.7,762.9 1533.9,762.9 1535.1,762.8 1536.3,762.8 1537.5,762.8 1538.7,762.7 1539.9,762.7 1541.1,762.6 1542.3,762.6 1543.5,762.6 1544.7,762.5 1545.9,762.5 1547.1,762.5 1548.3,762.4 1551.4,748.0 1553.6,740.6 1555.1,752.0 1556.6,773.0 1557.9,772.9 1559.2,772.8 1560.5,772.6 1561.8,772.4 1563.1,772.3 1564.4,772.3 1565.7,772.2 1567.0,772.0 1568.3,772.7 1569.5,773.3 1570.8,774.0 1572.1,774.7 1573.3,775.3 1574.6,776.0 1575.9,776.5 1577.2,777.3 1578.4,777.9 1581.2,767.0 1583.4,760.6 1584.9,768.0 1586.7,775.8 1587.9,776.8 1589.1,777.5 1590.2,778.3 1591.4,779.3 1592.6,780.1 1593.8,780.9 1595.0,781.8" stroke="#f00" stroke-width="12"/>
<polyline points="148.5,915.5 156.0,914.0 157.3,913.4 158.6,913.9 159.9,910.6 161.2,912.1 162.5,910.2 163.8,910.4 165.1,910.9 166.4,914.0 167.7,912.5 169.0,912.8 170.2,911.6 171.5,911.4 172.7,910.7 173.9,908.2 175.2,907.7 176.4,905.9 177.6,906.1 178.8,908.1 180.0,909.3 181.2,909.6 182.4,910.7 183.6,911.9 184.8,914.8 186.0,916.4 187.2,916.6 188.4,916.8 189.7,917.7 190.9,916.5 192.1,918.3 193.3,918.8 200.6,933.1 205.0,926.0 206.3,924.9 207.7,924.1 209.0,920.8 210.3,920.4 211.5,921.6 212.7,921.4 213.8,924.8 215.0,927.0 216.2,926.4 217.5,929.2 218.8,933.9 220.0,934.5 221.2,932.4 222.4,936.1 223.6,935.9 224.8,935.6 226.0,936.8 227.2,937.2 228.4,938.2 229.6,937.1 230.8,937.1 232.0,938.1 233.2,937.2 234.4,936.5 235.5,937.3 236.7,936.2 237.9,938.0 239.1,934.5 240.3,935.1 241.5,935.0 242.6,933.5 243.8,937.7 245.0,932.6 246.2,934.7 247.4,934.2 248.5,936.4 249.7,932.1 250.9,935.2 252.1,933.0 253.3,933.3 254.5,932.5 255.6,933.7 256.8,931.5 258.0,932.4 259.2,932.6 260.4,934.0 261.5,929.0 262.7,933.2 263.9,932.3 265.1,930.4 266.3,931.1 267.5,929.9 268.6,932.1 269.8,930.2 271.0,929.7 272.2,928.9 273.4,928.4 274.6,927.9 275.8,927.3 277.0,926.0 278.2,928.8 279.4,923.8 280.6,921.3 281.9,924.7 283.1,924.1 284.3,924.2 285.5,923.0 286.7,922.5 287.9,922.5 289.1,922.7 290.3,920.6 291.5,920.1 292.7,920.0 293.9,922.2 295.1,920.5 296.3,918.7 297.6,922.4 298.8,920.5 300.0,918.9 301.2,918.2 302.4,919.8 303.6,918.4 304.8,918.1 306.1,917.7 307.3,918.6 308.5,920.3 309.7,919.0 310.9,918.1 312.1,916.5 313.3,918.6 314.5,917.5 315.7,918.0 316.9,918.0 318.1,916.1 319.3,915.7 320.5,915.4 321.7,913.8 322.9,915.5 324.1,915.9 325.4,914.1 326.6,913.2 327.8,912.8 329.0,911.8 330.2,911.4 331.4,911.5 332.6,910.6 333.8,910.6 335.0,908.9 336.2,910.8 337.4,910.0 338.6,908.2 339.8,906.5 341.0,908.8 342.2,908.1 343.3,908.8 344.5,906.0 345.7,905.6 346.8,904.9 348.0,905.7 349.2,903.2 350.3,904.8 351.5,902.6 352.7,903.4 353.8,901.7 355.0,901.0 356.4,899.8 357.7,897.4 359.1,897.4 360.4,897.0 361.8,896.4 368.0,908.0 374.0,918.8 375.2,919.4 376.5,918.7 377.8,917.5 379.0,918.6 380.2,919.1 381.5,917.6 382.8,917.6 385.2,787.0 385.8,787.0 387.8,860.0 390.5,905.0 396.0,940.0 403.0,968.0 404.2,967.6 405.4,967.8 406.6,969.1 407.8,969.0 409.1,968.5 412.1,706.9 412.6,706.9 416.1,960.0 418.8,974.0 422.0,981.0 423.3,981.9 424.7,985.1 426.0,986.6 427.2,985.7 428.4,985.0 429.7,986.5 430.9,985.7 432.1,983.7 433.3,984.1 434.5,984.1 435.7,982.5 437.0,982.6 438.2,983.0 439.4,981.9 440.6,980.7 441.8,983.4 443.0,984.4 444.3,984.8 445.5,983.6 446.7,985.8 447.9,985.2 449.1,987.3 450.4,987.9 451.6,988.1 452.8,987.7 454.0,989.1 459.0,981.0 460.2,979.2 461.3,979.4 462.5,976.4 463.6,976.6 464.8,974.9 471.0,987.0 478.0,1000.0 479.2,1001.0 480.5,1000.8 481.7,1003.9 483.0,1002.2 484.2,1004.7 485.5,1001.3 486.7,1003.7 487.9,1001.2 489.1,1003.8 490.3,1003.1 491.5,1001.8 492.7,1001.6 494.0,999.5 495.2,1000.3 496.4,999.5 497.6,999.9 498.8,1000.5 500.0,999.3 501.2,999.1 502.4,999.2 503.5,997.9 504.7,997.9 505.9,998.2 507.1,997.6 508.3,998.8 509.5,996.5 510.6,998.9 511.8,995.9 513.0,997.7 514.2,995.7 515.4,997.7 516.6,996.1 517.7,996.1 518.9,996.2 520.1,994.6 521.3,993.9 522.5,992.8 523.7,995.7 524.8,993.6 526.0,993.4 527.2,993.7 528.4,995.4 529.6,991.6 530.8,993.3 531.9,992.4 533.1,993.1 534.3,990.5 535.5,991.7 536.7,992.6 537.9,993.1 539.0,992.9 540.2,990.3 541.4,990.9 542.6,990.5 543.8,989.0 545.0,988.7 546.1,990.6 547.3,989.9 548.5,989.4 549.7,989.0 550.9,990.1 552.0,987.7 553.2,989.0 554.4,988.2 555.6,987.9 556.8,988.2 558.0,987.6 559.1,987.5 560.3,987.2 561.5,988.7 562.7,986.2 563.9,987.3 565.1,986.6 566.2,985.4 567.4,986.3 568.6,984.4 569.8,986.2 571.0,984.0 572.2,984.1 573.3,984.6 574.5,984.9 575.7,984.7 576.9,984.5 578.1,983.2 579.3,982.2 580.4,983.4 581.6,982.9 582.8,981.4 584.0,983.1 585.2,982.1 586.4,980.7 587.5,981.9 588.7,979.9 589.9,980.1 591.1,981.1 592.3,978.9 593.5,980.3 594.6,978.6 595.8,980.5 597.0,979.5 598.2,978.5 599.4,979.1 600.5,977.1 601.7,978.0 602.9,979.0 604.1,978.2 605.3,975.6 606.5,978.1 607.6,977.8 608.8,976.3 610.0,977.8 611.2,975.0 612.4,975.7 613.6,976.6 614.7,976.5 615.9,976.2 617.1,973.5 618.3,972.6 619.5,974.5 620.7,972.3 621.8,973.4 623.0,971.9 624.2,974.0 625.4,973.5 626.6,972.9 627.8,972.1 628.9,971.8 630.1,971.2 631.3,971.6 632.5,971.2 633.7,971.1 634.9,969.9 636.0,972.0 637.2,970.1 638.4,970.9 639.6,970.6 640.8,968.0 642.0,966.9 643.1,969.7 644.3,967.7 645.5,967.8 646.7,967.6 647.9,966.9 649.0,967.0 650.2,965.3 651.4,966.1 652.6,965.4 653.8,965.5 655.0,962.8 656.1,965.7 657.3,964.9 658.5,962.4 659.7,963.1 660.9,963.6 662.1,963.9 663.2,962.9 664.4,964.1 665.6,962.3 666.8,960.9 668.0,960.9 669.2,962.1 670.3,960.3 671.5,961.5 672.7,961.4 673.9,960.6 675.1,960.8 676.3,959.2 677.4,959.0 678.6,958.1 679.8,957.7 681.0,956.4 682.2,957.2 683.4,956.3 684.5,955.6 685.7,956.9 686.9,956.9 688.1,955.8 689.3,957.2 690.5,956.5 691.6,956.3 692.8,954.2 694.0,954.5 695.2,952.5 696.4,954.3 697.5,953.7 698.7,953.7 699.9,953.0 701.1,953.5 702.3,951.5 703.4,952.2 704.6,950.1 705.8,948.2 707.0,949.8 708.2,951.5 709.3,947.7 710.5,950.2 711.7,948.0 712.9,947.9 714.1,948.0 715.2,947.8 716.4,946.2 717.6,947.0 718.8,946.9 720.0,947.0 721.2,944.9 722.3,947.0 723.5,947.0 724.7,947.2 725.9,942.7 727.1,944.0 728.2,941.4 729.4,943.4 730.6,943.2 731.8,941.0 733.0,940.1 734.1,941.7 735.3,941.8 736.5,939.8 737.7,940.0 738.9,937.2 740.0,938.8 741.2,939.3 742.4,938.8 743.6,938.6 744.8,939.9 746.0,936.6 747.3,935.0 748.5,937.6 749.7,936.2 750.9,936.8 752.1,937.0 753.3,936.5 754.5,937.1 755.8,936.7 757.0,933.0 758.2,934.4 759.4,936.4 760.6,933.4 761.8,934.6 763.1,933.1 764.3,932.4 765.5,934.3 766.7,932.2 767.9,933.2 769.1,931.5 770.3,932.6 771.6,929.9 772.8,930.3 774.0,931.9 775.2,930.8 776.4,929.3 777.6,930.8 778.9,930.5 780.1,931.3 781.3,930.8 782.5,929.2 783.7,928.7 784.9,928.9 786.1,928.6 787.4,930.3 788.6,930.2 789.8,929.7 791.0,928.0 792.2,928.2 793.4,927.2 794.6,928.3 795.8,926.6 797.0,927.0 798.3,924.6 799.5,925.8 800.7,927.6 801.9,924.6 803.1,923.8 804.3,925.1 805.5,926.9 806.7,926.4 807.9,924.1 809.1,923.7 810.3,923.9 811.6,922.7 812.8,923.5 814.0,922.9 815.2,921.3 816.4,922.1 817.6,922.5 819.0,920.6 820.3,918.3 821.6,916.3 823.0,916.0 824.4,916.4 825.8,916.9 827.1,913.7 828.5,913.4 829.7,913.2 830.9,914.6 832.1,914.0 833.4,913.7 834.6,916.5 835.8,914.0 837.0,915.5 840.0,925.0 843.0,934.6 844.2,933.6 845.4,933.4 846.6,933.0 847.9,933.5 849.1,934.2 850.3,935.0 851.5,933.9 852.7,933.0 853.9,931.3 855.2,932.5 856.4,931.3 857.6,932.0 858.8,931.9 860.0,933.6 861.2,933.4 862.4,933.5 863.7,933.5 864.9,935.0 866.1,935.8 867.3,935.2 868.5,936.3 869.7,938.5 870.9,936.3 872.2,938.2 873.4,938.1 874.6,941.7 875.8,940.6 877.0,940.6 878.2,939.9 879.4,939.2 880.6,938.4 881.8,937.8 883.0,935.1 884.2,936.5 885.5,936.3 886.7,933.4 887.9,935.3 889.1,934.5 890.3,931.4 891.5,932.0 892.7,931.9 893.9,931.8 895.1,931.8 896.3,933.1 897.4,931.5 898.6,932.9 899.8,933.7 901.0,934.5 902.2,934.0 903.4,933.9 904.5,935.2 905.7,932.4 906.9,935.9 908.1,934.8 909.3,934.0 910.5,935.2 911.7,935.9 914.4,918.0 916.7,904.5 918.8,920.0 921.0,934.5 922.3,932.7 923.5,932.7 924.7,934.8 926.0,934.5 927.2,936.4 928.5,934.8 929.7,936.0 935.8,962.1 937.0,958.9 938.2,957.4 939.4,958.3 940.6,954.7 941.8,952.1 943.0,950.9 946.7,963.1 947.9,961.8 949.1,961.4 950.3,962.1 951.4,962.4 952.6,962.9 953.8,962.6 955.0,961.1 962.4,980.6 963.6,982.2 964.9,982.6 966.1,983.8 967.3,983.7 968.5,986.3 969.8,989.1 971.0,990.0 972.4,989.5 973.7,990.0 975.0,988.1 976.4,990.1 977.8,989.0 980.0,876.9 980.5,876.9 983.0,990.0 984.3,991.2 985.5,991.8 986.7,992.6 987.9,992.7 989.1,989.9 990.3,991.3 991.5,990.8 992.8,993.2 994.0,991.0 995.2,990.4 996.4,991.5 997.6,989.4 998.8,990.2 1000.0,992.2 1001.3,990.7 1002.5,991.9 1003.7,991.6 1004.9,993.8 1006.2,991.5 1007.4,994.9 1008.6,994.0 1009.8,995.4 1011.1,994.8 1012.3,996.5 1015.5,950.0 1017.8,921.9 1018.2,921.9 1021.2,960.0 1025.5,1036.1 1030.0,1028.0 1031.3,1026.2 1032.7,1024.1 1034.0,1021.9 1038.8,1048.1 1046.0,1029.9 1052.0,1076.1 1056.5,1050.0 1060.6,1039.9 1064.0,1065.0 1068.0,1096.5 1069.2,1097.7 1070.4,1098.4 1071.6,1099.4 1072.8,1100.5 1074.0,1100.6 1075.2,1100.3 1076.3,1099.7 1077.5,1099.5 1078.6,1100.9 1079.8,1100.1 1081.0,1101.1 1082.1,1100.3 1083.3,1099.5 1084.4,1100.8 1085.6,1101.5 1086.8,1099.9 1087.9,1099.4 1089.1,1099.4 1090.2,1100.6 1091.4,1099.5 1092.6,1099.5 1093.7,1100.3 1094.9,1099.7 1096.0,1099.8 1097.2,1099.3 1098.4,1099.1 1099.5,1099.7 1100.7,1099.6 1101.8,1099.9 1103.0,1099.4 1104.2,1098.9 1105.4,1099.4 1106.5,1099.4 1107.7,1099.0 1108.9,1099.2 1110.1,1099.4 1111.2,1098.7 1112.4,1098.5 1113.6,1097.7 1114.8,1098.5 1115.9,1098.1 1117.1,1097.8 1118.3,1097.3 1119.5,1098.2 1120.6,1099.5 1121.8,1097.9 1123.0,1097.5 1124.2,1097.7 1125.3,1096.8 1126.5,1097.2 1127.7,1097.0 1129.1,1094.7 1130.6,1092.8 1132.0,1091.4 1133.2,1093.2 1134.4,1094.8 1135.6,1096.3 1136.8,1096.1 1138.0,1095.5 1139.1,1096.2 1140.3,1095.1 1141.5,1096.3 1142.7,1095.4 1143.9,1095.6 1145.0,1096.0 1146.2,1095.8 1147.4,1094.3 1148.6,1095.0 1149.8,1095.3 1150.9,1094.2 1152.1,1093.1 1153.3,1094.7 1154.5,1094.6 1155.7,1094.9 1156.8,1094.5 1158.0,1094.4 1159.2,1094.4 1160.4,1095.1 1161.6,1094.4 1162.7,1094.3 1163.9,1093.5 1165.1,1094.5 1166.3,1093.5 1167.5,1094.0 1168.6,1091.9 1169.8,1093.5 1171.0,1093.2 1172.2,1093.0 1173.4,1092.5 1174.6,1093.6 1175.8,1092.8 1177.0,1092.2 1178.2,1091.8 1179.4,1093.4 1180.6,1092.3 1181.8,1092.1 1183.0,1090.9 1184.2,1092.2 1185.4,1091.5 1186.6,1090.7 1187.8,1090.7 1189.0,1089.4 1190.2,1090.9 1191.4,1089.4 1192.6,1090.7 1193.8,1089.6 1195.0,1089.7 1196.2,1089.2 1197.3,1090.0 1198.5,1089.8 1199.6,1088.8 1200.8,1089.6 1202.0,1090.1 1203.1,1089.5 1204.3,1088.7 1205.5,1089.5 1206.6,1088.9 1207.8,1089.2 1208.9,1089.7 1210.1,1089.6 1211.3,1089.5 1212.4,1088.4 1213.6,1089.9 1214.8,1089.5 1215.9,1089.3 1217.1,1089.7 1218.2,1091.0 1219.4,1089.6 1220.6,1087.8 1221.8,1086.6 1223.1,1087.5 1224.3,1085.5 1225.5,1086.2 1226.7,1083.6 1227.9,1083.1 1229.1,1083.2 1230.3,1082.3 1231.6,1081.1 1232.8,1080.2 1234.0,1079.0 1235.2,1079.0 1236.4,1079.0 1237.6,1079.3 1238.8,1080.5 1240.0,1080.3 1241.2,1079.9 1242.4,1080.0 1243.7,1081.8 1245.0,1083.8 1246.4,1085.7 1247.7,1086.3 1249.0,1088.0 1250.4,1089.8 1251.7,1091.9 1253.1,1095.4 1254.4,1095.5 1255.8,1097.1 1261.0,1084.0 1263.0,1030.0 1265.2,976.1 1265.8,976.1 1268.2,1014.0 1270.5,1017.0 1272.0,1060.0 1273.3,1144.0 1274.5,1145.6 1275.8,1144.7 1277.0,1146.5 1278.2,1147.2 1279.4,1146.1 1280.7,1146.6 1281.9,1147.1 1283.1,1147.6 1284.3,1148.0 1285.6,1148.4 1286.8,1148.5 1288.0,1148.6 1289.2,1148.1 1290.4,1149.6 1291.6,1148.0 1292.8,1147.9 1294.0,1148.5 1295.2,1147.6 1296.4,1147.1 1297.6,1146.6 1298.8,1147.3 1300.0,1145.9 1301.2,1145.5 1302.5,1145.8 1303.7,1146.7 1304.9,1145.7 1306.2,1146.7 1307.4,1148.0 1308.6,1147.3 1309.8,1147.9 1311.1,1148.5 1312.3,1147.6 1313.5,1148.7 1314.8,1148.5 1316.0,1148.4 1317.2,1149.1 1318.5,1149.5 1319.7,1149.8 1320.9,1149.1 1322.1,1148.4 1323.3,1148.9 1324.6,1148.5 1325.8,1147.7 1327.0,1146.8 1328.2,1145.8 1329.4,1145.9 1330.6,1145.5 1331.8,1145.5 1333.0,1146.4 1334.2,1146.9 1335.4,1147.1 1336.7,1146.6 1337.9,1146.5 1339.1,1147.0 1340.3,1147.1 1341.5,1147.5 1342.7,1148.1 1343.9,1147.0 1345.1,1148.7 1346.3,1146.4 1347.5,1146.7 1348.7,1147.0 1350.0,1147.4 1351.2,1148.0 1352.4,1149.5 1353.6,1147.9 1354.8,1149.1 1356.0,1148.6 1357.4,1146.7 1358.8,1145.4 1360.2,1143.0 1361.6,1142.0 1364.0,1138.4 1366.1,1143.0 1368.0,1147.4 1369.2,1148.5 1370.4,1146.9 1371.6,1146.3 1372.8,1147.7 1374.0,1146.2 1375.2,1146.1 1376.4,1145.5 1377.6,1144.8 1378.8,1144.2 1380.0,1144.8 1381.2,1143.5 1382.5,1143.5 1383.7,1141.6 1385.0,1140.1 1386.2,1139.0 1387.5,1138.6 1388.8,1136.9 1391.3,1143.0 1392.7,1144.1 1394.2,1147.2 1395.6,1148.1 1397.0,1149.8 1398.2,1148.9 1399.5,1149.4 1400.7,1148.9 1402.0,1148.0 1403.2,1148.0 1404.4,1148.0 1405.7,1147.9 1406.9,1146.2 1408.2,1144.7 1409.4,1145.9 1410.6,1147.8 1411.8,1147.1 1413.0,1147.7 1414.2,1148.9 1415.4,1149.1 1416.7,1150.6 1417.9,1149.9 1419.1,1151.2 1420.3,1151.3 1421.5,1153.6 1422.7,1153.4 1430.1,1138.0 1433.2,1128.4 1436.3,1140.0 1443.0,1155.8 1444.2,1155.8 1445.5,1156.7 1446.8,1157.0 1448.0,1155.6 1449.2,1156.3 1450.5,1156.9 1451.8,1156.7 1453.0,1156.7 1454.2,1157.4 1455.5,1157.0 1456.7,1157.0 1457.9,1155.6 1459.1,1155.4 1460.3,1155.3 1461.5,1154.6 1462.8,1154.0 1464.0,1152.8 1465.2,1154.0 1466.4,1152.3 1467.6,1151.9 1468.8,1153.0 1470.0,1153.7 1471.2,1154.7 1472.4,1155.7 1473.6,1156.1 1474.8,1157.7 1476.0,1159.1 1477.2,1159.6 1478.4,1160.7 1479.6,1161.5 1480.8,1162.2 1482.0,1163.1 1488.7,1135.0 1491.4,1112.5 1494.0,1138.0 1496.8,1169.0 1498.0,1170.1 1499.2,1168.6 1500.4,1169.2 1501.6,1169.6 1502.8,1169.2 1504.0,1168.4 1505.2,1168.4 1506.4,1169.9 1507.6,1168.4 1508.8,1169.0 1510.0,1169.6 1511.2,1170.5 1512.5,1170.9 1513.7,1170.4 1514.9,1170.9 1516.1,1172.6 1517.3,1172.8 1518.6,1173.7 1519.8,1174.5 1521.0,1175.1 1522.2,1175.0 1523.4,1173.9 1524.6,1173.5 1525.8,1174.9 1527.0,1173.7 1528.2,1173.2 1529.5,1172.5 1530.7,1173.8 1531.9,1172.5 1533.1,1172.5 1534.3,1173.3 1535.5,1172.7 1537.0,1171.3 1538.5,1169.9 1540.0,1168.0 1541.5,1166.2 1542.9,1164.2 1544.4,1164.9 1547.5,1172.0 1551.0,1180.0 1552.2,1179.4 1553.5,1179.8 1554.7,1179.6 1555.9,1180.5 1557.2,1180.2 1558.4,1179.4 1559.6,1180.3 1560.8,1179.9 1562.1,1179.7 1563.3,1180.7 1564.5,1179.0 1565.8,1180.6 1567.0,1180.0 1568.3,1181.4 1569.5,1180.4 1570.8,1182.3 1572.1,1183.1 1573.3,1183.3 1574.6,1184.4 1575.9,1185.0 1577.2,1186.3 1578.4,1187.1 1580.9,1170.0 1582.9,1157.5 1584.9,1170.0 1587.4,1183.6 1588.7,1184.5 1589.9,1184.8 1591.2,1188.0 1592.5,1189.1 1593.7,1189.3 1595.0,1191.0" stroke="#00f" stroke-width="12.8"/>
</g>
<line x1="1600.4" y1="31.85" x2="1600.4" y2="1225.8" stroke="#000" stroke-width="11.2"/>
<text transform="translate(1599.5,1301.8) scale(1,1.03)" font-size="78" text-anchor="middle">0</text>
<text transform="translate(1367.5,1301.8) scale(1,1.03)" font-size="78" text-anchor="middle">200</text>
<text transform="translate(1135.6,1301.8) scale(1,1.03)" font-size="78" text-anchor="middle">400</text>
<text transform="translate(903.6,1301.8) scale(1,1.03)" font-size="78" text-anchor="middle">600</text>
<text transform="translate(671.7,1301.8) scale(1,1.03)" font-size="78" text-anchor="middle">800</text>
<text transform="translate(439.8,1301.8) scale(1,1.03)" font-size="78" text-anchor="middle">1000</text>
<text transform="translate(207.8,1301.8) scale(1,1.03)" font-size="78" text-anchor="middle">1200</text>
<text transform="translate(874.5,1408.3) scale(1,1.025)" font-size="88.1" text-anchor="middle">Binding Energy (eV)</text>
<text transform="translate(90.2,560.9) rotate(-90) scale(1,1.03)" font-size="88" text-anchor="middle">Intensity (a.u.)</text>
<text transform="translate(155.5,164.3) scale(1,1.03)" font-size="67">Zn 2<tspan class="it">p</tspan></text>
<text transform="translate(890.5,287.5) scale(1,1.03)" font-size="67">O 1<tspan class="it">s</tspan></text>
<text transform="translate(1056.5,265) scale(1,1.03)" font-size="67">Ru 3<tspan class="it">p</tspan></text>
<text transform="translate(1269,205.3) scale(1,1.03)" font-size="67">C 1<tspan class="it">s</tspan></text>
<text transform="translate(1385.5,275.5) scale(1,1.03)" font-size="67">Ru 3<tspan class="it">d</tspan></text>
<text transform="translate(1432,366.5) scale(1,1.03)" font-size="67">W 4<tspan class="it">f</tspan></text>
<g fill="#000"><text transform="translate(439.00,180) scale(1,1.03)" font-size="66.6">Ru</text><text transform="translate(528.06,198.20) scale(1,1.06)" font-size="45.2">1</text><text transform="translate(553.48,180) scale(1,1.03)" font-size="66.6">W</text><text transform="translate(616.62,198.20) scale(1,1.06)" font-size="45.2">0.14</text><text transform="translate(704.87,180) scale(1,1.03)" font-size="66.6">Zn</text><text transform="translate(786.51,198.20) scale(1,1.06)" font-size="45.2">1.47</text><text transform="translate(874.77,180) scale(1,1.03)" font-size="66.6">O</text><text transform="translate(926.85,198.20) scale(1,1.06)" font-size="45.2">x</text></g>
<g fill="#f00"><text transform="translate(459.00,542.8) scale(1,1.03)" font-size="66.6">Ru</text><text transform="translate(548.06,561.00) scale(1,1.06)" font-size="45.2">1</text><text transform="translate(573.48,542.8) scale(1,1.03)" font-size="66.6">W</text><text transform="translate(636.62,561.00) scale(1,1.06)" font-size="45.2">0.33</text><text transform="translate(724.87,542.8) scale(1,1.03)" font-size="66.6">Zn</text><text transform="translate(806.51,561.00) scale(1,1.06)" font-size="45.2">1.14</text><text transform="translate(894.77,542.8) scale(1,1.03)" font-size="66.6">O</text><text transform="translate(946.85,561.00) scale(1,1.06)" font-size="45.2">x</text></g>
<g fill="#000"><text transform="translate(536.00,840) scale(1,1.03)" font-size="61">RuZn</text><text transform="translate(692.12,856.50) scale(1,1.06)" font-size="41.5">x</text><text transform="translate(715.48,840) scale(1,1.03)" font-size="61">O</text><text transform="translate(763.20,856.50) scale(1,1.06)" font-size="41.5">y</text></g>
<line x1="305.5" y1="168.2" x2="382.3" y2="215.3" stroke="#000" stroke-width="4.7"/><polygon points="408.3,231.3 375.9,221.9 385.3,206.7" fill="#000"/>
<line x1="308.0" y1="185.3" x2="364.1" y2="250.4" stroke="#000" stroke-width="4.7"/><polygon points="384.0,273.5 356.0,254.7 369.5,243.1" fill="#000"/>
<line x1="1112.0" y1="282.7" x2="1059.0" y2="339.8" stroke="#000" stroke-width="4.7"/><polygon points="1038.2,362.2 1053.8,332.3 1066.8,344.4" fill="#000"/>
<line x1="1126.8" y1="278.9" x2="1087.3" y2="343.3" stroke="#000" stroke-width="4.7"/><polygon points="1071.3,369.3 1080.7,336.9 1095.9,346.3" fill="#000"/>
<line x1="1284.5" y1="217.3" x2="1271.5" y2="293.9" stroke="#000" stroke-width="4.7"/><polygon points="1266.4,324.0 1263.1,290.5 1280.6,293.4" fill="#000"/>
<line x1="1387.6" y1="284.0" x2="1304.0" y2="351.4" stroke="#000" stroke-width="4.7"/><polygon points="1280.2,370.5 1299.9,343.2 1311.1,357.0" fill="#000"/>
<line x1="1505.0" y1="384.2" x2="1564.9" y2="437.8" stroke="#000" stroke-width="4.7"/><polygon points="1587.6,458.2 1557.5,443.1 1569.3,429.9" fill="#000"/>
</g>
</svg></body></html>
